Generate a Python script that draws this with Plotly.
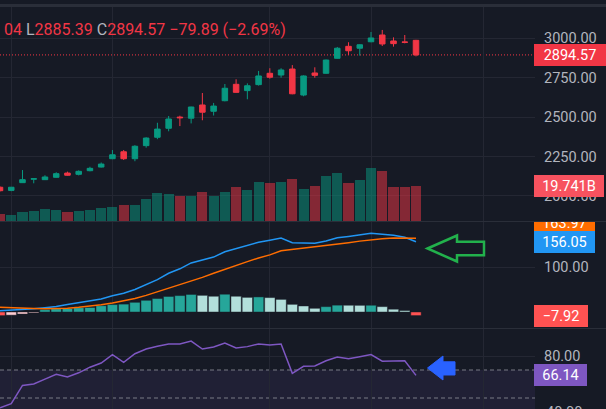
import plotly.graph_objects as go

# ---- data ----
bars = list(range(38))

opens = [2055, 2035, 2084, 2106, 2103, 2118, 2145, 2137, 2160, 2183,
         2236, 2280, 2236, 2319, 2372, 2429, 2500, 2493, 2577, 2537,
         2604, 2708, 2668, 2706, 2778, 2767, 2805, 2640, 2780, 2778,
         2873, 2949, 2937, 2978, 3021, 2983, 2977, 2987]
highs = [2060, 2057, 2164, 2110, 2131, 2150, 2154, 2162, 2185, 2212,
         2291, 2291, 2322, 2372, 2464, 2507, 2509, 2566, 2653, 2590,
         2710, 2740, 2714, 2793, 2810, 2810, 2830, 2765, 2816, 2865,
         2945, 2975, 2962, 3040, 3053, 3006, 3021, 2990.04]
lows = [2028, 2030, 2082, 2080, 2101, 2115, 2128, 2130, 2156, 2180,
        2233, 2228, 2220, 2306, 2360, 2410, 2443, 2460, 2480, 2510,
        2600, 2655, 2613, 2700, 2744, 2750, 2645, 2632, 2750, 2775,
        2870, 2894, 2890, 2975, 2951, 2947, 2968, 2885.39]
closes = [2033, 2055, 2103, 2109, 2120, 2141, 2131, 2156, 2175, 2202,
          2261, 2236, 2315, 2367, 2424, 2488, 2496, 2564, 2531, 2570,
          2683, 2657, 2699, 2761, 2753, 2799, 2648, 2761, 2765, 2862,
          2937, 2921, 2959, 3002, 2964, 2966, 2974.46, 2894.57]

volume_b = [3.9, 3.2, 4.9, 5.5, 6.6, 6.2, 4.9, 5.6, 6.2, 7.3,
            7.9, 9.0, 9.0, 12.4, 15.6, 15.0, 13.9, 14.3, 16.4, 14.3,
            16.2, 19.3, 17.3, 22.0, 21.4, 22.0, 23.7, 18.0, 19.7, 25.4,
            27.1, 21.4, 23.1, 29.7, 28.4, 19.2, 19.0, 19.741]

macd = [3, 4, 5.5, 7.4, 9.5, 12, 16.5, 20.5, 25, 29,
        36, 41.5, 50, 61, 72, 86, 96, 109, 116, 122,
        134, 141, 147, 155, 159.5, 164.4, 154, 153, 152.6, 158,
        165, 168, 172, 175, 172.6, 170.4, 166, 156.05]
signal = [10.4, 9, 8, 7.5, 7, 7.5, 8.5, 10.5, 13, 16,
          20, 24.5, 30, 37, 45, 52, 60, 69, 77, 86,
          95, 104, 112, 120, 127, 136, 139, 142, 144.5, 146.5,
          150, 154, 157.5, 161, 163, 164.5, 164.5, 163.97]
hist = [-8, -7, -4.5, -2, 5.2, 7.4, 7.8, 9.6, 10, 14,
        16.5, 17.5, 21.5, 26, 30, 34.5, 36.5, 39, 37, 35,
        39.5, 35, 32.5, 33.5, 32, 28, 17, 13.4, 8.2, 11.9,
        15.2, 15.0, 14.8, 15.0, 11.9, 6.2, 3.2, -7.92]
hist_before = -6.5  # histogram bar just left of the window

rsi = [43, 46, 59, 60, 63.5, 67, 65, 68, 72, 75,
       81, 75.5, 81.6, 85, 87, 88.6, 88.6, 90.7, 85, 86.4,
       89.3, 85.7, 86.7, 88.6, 87.9, 88.6, 67.6, 72.6, 72.9, 76.6,
       79.3, 78, 79.5, 81, 76.3, 76.3, 76.6, 66.14]

price_ticks = [2000, 2250, 2500, 2750, 3000]
time_grid = [1, 10, 24, 33, 43]

# ---- look ----
W, H = 606, 409
PLOT_R = 535
BAR_PX = 11.243
BG = "#161a25"
GRID = "#242733"
SEP = "#2a2e39"
AXIS_TXT = "#b2b5be"
UP = "#089981"
DOWN = "#f23645"
FONT = "Roboto"


def px(x):
    return x / W


def py(y):
    return 1 - y / H


def dom(top, bottom):
    return [py(bottom), py(top)]


vol_colors = ["rgba(8,153,129,0.5)" if c >= o else "rgba(242,54,69,0.5)"
              for o, c in zip(opens, closes)]

hist_colors = []
for h, p in zip(hist, [hist_before] + hist[:-1]):
    if h >= 0:
        hist_colors.append("#26a69a" if h > p else "#b2dfdb")
    else:
        hist_colors.append("#ffcdd2" if h > p else "#ff5252")

fig = go.Figure()

fig.add_trace(go.Bar(x=bars, y=volume_b, marker=dict(color=vol_colors, line=dict(width=0)),
                     width=0.9, xaxis="x", yaxis="y4", hoverinfo="skip"))
fig.add_trace(go.Candlestick(
    x=bars, open=opens, high=highs, low=lows, close=closes,
    increasing=dict(line=dict(color=UP, width=1), fillcolor=UP),
    decreasing=dict(line=dict(color=DOWN, width=1), fillcolor=DOWN),
    whiskerwidth=0, xaxis="x", yaxis="y", hoverinfo="skip"))

fig.add_trace(go.Bar(x=bars, y=hist, marker=dict(color=hist_colors,
                     line=dict(width=1, color="rgba(22,26,37,0.45)")),
                     width=0.92, xaxis="x2", yaxis="y2", hoverinfo="skip"))
fig.add_trace(go.Scatter(x=bars, y=macd, mode="lines", line=dict(color="#2196f3", width=1.5),
                         xaxis="x2", yaxis="y2", hoverinfo="skip"))
fig.add_trace(go.Scatter(x=bars, y=signal, mode="lines", line=dict(color="#ff6d00", width=1.5),
                         xaxis="x2", yaxis="y2", hoverinfo="skip"))

fig.add_trace(go.Scatter(x=bars, y=rsi, mode="lines", line=dict(color="#7e57c2", width=1.5),
                         xaxis="x3", yaxis="y3", hoverinfo="skip"))

x_common = dict(domain=[0, px(PLOT_R)], range=[0, PLOT_R / BAR_PX],
                tickvals=time_grid, showticklabels=False, showgrid=True,
                gridcolor=GRID, zeroline=False, showline=False, fixedrange=True)
y_common = dict(side="right", showgrid=True, gridcolor=GRID, zeroline=False,
                showline=False, ticks="", ticklabelstandoff=8, fixedrange=True,
                tickfont=dict(family=FONT, size=14.5, color=AXIS_TXT))

fig.update_layout(
    width=W, height=H, autosize=False,
    margin=dict(l=0, r=0, t=0, b=0),
    paper_bgcolor=BG, plot_bgcolor=BG,
    showlegend=False, bargap=0,
    font=dict(family=FONT, color=AXIS_TXT),
    xaxis=dict(x_common, anchor="y", rangeslider=dict(visible=False)),
    xaxis2=dict(x_common, anchor="y2", matches="x"),
    xaxis3=dict(x_common, anchor="y3", matches="x"),
    yaxis=dict(y_common, anchor="x", domain=dom(6, 221), range=[1840.8, 3204.9],
               tickvals=price_ticks, ticktext=[f"{v:.2f}" for v in price_ticks]),
    yaxis4=dict(overlaying="y", range=[0, 215 * 0.564], visible=False, fixedrange=True),
    yaxis2=dict(y_common, anchor="x2", domain=dom(222, 328), range=[-35.56, 200],
                tickvals=[100], ticktext=["100.00"]),
    yaxis3=dict(y_common, anchor="x3", domain=dom(329, 409), range=[42.14, 99.29],
                tickvals=[80], ticktext=["80.00"]),
)

shapes = [
    dict(type="rect", xref="paper", yref="paper", x0=0, x1=1, y0=py(7), y1=py(4),
         fillcolor=SEP, line=dict(width=0), layer="above"),
    dict(type="line", xref="paper", yref="paper", x0=0, x1=1, y0=py(221.5), y1=py(221.5),
         line=dict(color=SEP, width=1), layer="above"),
    dict(type="line", xref="paper", yref="paper", x0=0, x1=1, y0=py(328.5), y1=py(328.5),
         line=dict(color=SEP, width=1), layer="above"),
    dict(type="line", xref="paper", yref="y", x0=0, x1=px(PLOT_R), y0=closes[-1], y1=closes[-1],
         line=dict(color=DOWN, width=1, dash="1px,2px"), layer="below"),
    dict(type="rect", xref="paper", yref="y3", x0=0, x1=px(PLOT_R), y0=42.14, y1=70,
         fillcolor="rgba(126,87,194,0.1)", line=dict(width=0), layer="below"),
    dict(type="line", xref="paper", yref="y3", x0=0, x1=px(PLOT_R), y0=70, y1=70,
         line=dict(color="#787b86", width=1, dash="4px,3px"), layer="below"),
    dict(type="line", xref="paper", yref="y3", x0=0, x1=px(PLOT_R), y0=50, y1=50,
         line=dict(color="#787b86", width=1, dash="4px,3px"), layer="below"),
]


def poly(points):
    return "M " + " L ".join(f"{px(x):.5f},{py(y):.5f}" for x, y in points) + " Z"


green_arrow = [(427.5, 248.5), (457, 235.5), (457, 241.8), (484, 241.8),
               (484, 255.2), (457, 255.2), (457, 261.5)]
blue_arrow = [(427.5, 368), (443, 356), (443, 361.8), (455, 361.8),
              (455, 375), (443, 375), (443, 380)]
shapes.append(dict(type="path", xref="paper", yref="paper", path=poly(green_arrow),
                   line=dict(color="#22b14c", width=2.5), fillcolor="rgba(0,0,0,0)", layer="above"))
shapes.append(dict(type="path", xref="paper", yref="paper", path=poly(blue_arrow),
                   line=dict(color="#2962ff", width=1), fillcolor="#2962ff", layer="above"))
fig.update_layout(shapes=shapes)


def red(t):
    return f'<span style="color:{DOWN}">{t}</span>'


def grey(t):
    return f'<span style="color:{AXIS_TXT}">{t}</span>'


legend_text = (red("04") + " " + grey("L") + red("2885.39") + " " + grey("C") + red("2894.57")
               + " " + red("\u221279.89 (\u22122.69%)"))

annotations = [
    dict(text=legend_text, xref="paper", yref="paper", x=px(2), y=py(29.5),
         xanchor="left", yanchor="middle", showarrow=False, font=dict(family=FONT, size=16)),
    dict(text="40.00", xref="paper", yref="paper", x=px(544), y=py(412),
         xanchor="left", yanchor="middle", showarrow=False,
         font=dict(family=FONT, size=14.5, color=AXIS_TXT)),
]


def value_label(text, yref, y, color, width, yanchor="middle", height=22, valign="middle"):
    return dict(text=text, xref="paper", yref=yref, x=px(534), y=y,
                xanchor="left", yanchor=yanchor, showarrow=False,
                bgcolor=color, borderpad=0, borderwidth=0, width=width, height=height,
                align="center", valign=valign,
                font=dict(family=FONT, size=14.5, color="#ffffff"))


annotations += [
    value_label(f"{closes[-1]:.2f}", "y", closes[-1], DOWN, 72),
    value_label(f"{volume_b[-1]:.3f}B", "y4", volume_b[-1], "#f7525f", 70),
    value_label(f"{signal[-1]:.2f}", "paper", py(232), "#ff6d00", 61,
                yanchor="bottom", height=10, valign="bottom"),
    value_label(f"{macd[-1]:.2f}", "y2", macd[-1], "#2196f3", 61),
    value_label(f"\u2212{abs(hist[-1]):.2f}", "y2", hist[-1], "#ff5252", 54),
    value_label(f"{rsi[-1]:.2f}", "y3", rsi[-1], "#7e57c2", 53),
]
fig.update_layout(annotations=annotations)

fig.write_html("out.html", config=dict(displayModeBar=False, staticPlot=True),
               post_script="document.body.style.margin='0px';document.body.style.overflow='hidden';")
